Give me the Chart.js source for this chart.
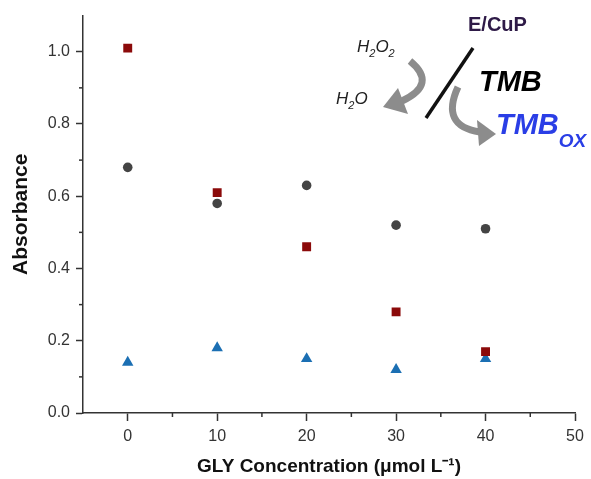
<!DOCTYPE html>
<html>
<head>
<meta charset="utf-8">
<script src="https://cdn.jsdelivr.net/npm/chart.js@4/dist/chart.umd.min.js"></script>
<style>
body { margin: 0; background: #fff; }
#wrap { width: 591px; height: 479px; }
</style>
</head>
<body>
<div id="wrap"><canvas id="chart" width="591" height="479"></canvas></div>
<script>
// data
const concentrations = [0, 10, 20, 30, 40];
const squareValues = [1.01, 0.61, 0.46, 0.28, 0.17];
const circleValues = [0.68, 0.58, 0.63, 0.52, 0.51];
const triangleValues = [0.14, 0.18, 0.15, 0.12, 0.15];

const xTicks = [-5, 0, 5, 10, 15, 20, 25, 30, 35, 40, 45, 50];
const xMajor = [0, 10, 20, 30, 40, 50];
const yTicks = [0, 0.1, 0.2, 0.3, 0.4, 0.5, 0.6, 0.7, 0.8, 0.9, 1.0];
const yMajor = [0, 0.2, 0.4, 0.6, 0.8, 1.0];

const FONT = "'Liberation Sans', Arial, sans-serif";
const AXIS = '#333';

function points(values) {
    return concentrations.map((c, i) => ({ x: c, y: values[i] }));
}

function isMajor(list, v) {
    return list.some(m => Math.abs(m - v) < 1e-6);
}

// text with a lowered small part, e.g. H2O
function subText(ctx, parts, x, y, size) {
    parts.forEach(p => {
        const sub = p.sub;
        ctx.font = ctx.font.replace(/\d+px/, (sub ? Math.round(size * 0.66) : size) + 'px');
        ctx.fillText(p.t, x, sub ? y + size * 0.28 : y);
        x += ctx.measureText(p.t).width;
    });
}

// short minor ticks + scheme in the corner
const decorPlugin = {
    id: 'decor',
    afterDraw(chart) {
        const { ctx, scales } = chart;
        const xs = scales.x, ys = scales.y;
        ctx.save();
        ctx.strokeStyle = AXIS;
        ctx.lineWidth = 1.5;
        xTicks.forEach(v => {
            if (isMajor(xMajor, v) || v === xs.min) return;
            const px = xs.getPixelForValue(v);
            ctx.beginPath();
            ctx.moveTo(px, ys.bottom);
            ctx.lineTo(px, ys.bottom + 4);
            ctx.stroke();
        });
        yTicks.forEach(v => {
            if (isMajor(yMajor, v)) return;
            const py = ys.getPixelForValue(v);
            ctx.beginPath();
            ctx.moveTo(xs.left, py);
            ctx.lineTo(xs.left - 4, py);
            ctx.stroke();
        });

        // slash
        ctx.strokeStyle = '#111';
        ctx.lineWidth = 3.5;
        ctx.beginPath();
        ctx.moveTo(473, 48);
        ctx.lineTo(426, 118);
        ctx.stroke();

        // grey curved arrows
        ctx.strokeStyle = '#8c8c8c';
        ctx.fillStyle = '#8c8c8c';
        ctx.lineWidth = 7;
        ctx.beginPath();
        ctx.moveTo(410, 61);
        ctx.quadraticCurveTo(438, 84, 402, 101);
        ctx.stroke();
        ctx.beginPath();
        ctx.moveTo(398, 88);
        ctx.lineTo(383, 107);
        ctx.lineTo(408, 114);
        ctx.closePath();
        ctx.fill();

        ctx.beginPath();
        ctx.moveTo(458, 87);
        ctx.quadraticCurveTo(440, 126, 480, 132);
        ctx.stroke();
        ctx.beginPath();
        ctx.moveTo(477, 120);
        ctx.lineTo(496, 134);
        ctx.lineTo(479, 146);
        ctx.closePath();
        ctx.fill();

        // labels
        ctx.textBaseline = 'alphabetic';
        ctx.textAlign = 'left';
        ctx.fillStyle = '#2e1a47';
        ctx.font = 'bold 20px ' + FONT;
        ctx.fillText('E/CuP', 468, 31);

        ctx.fillStyle = '#222';
        ctx.font = 'italic 17px ' + FONT;
        subText(ctx, [{ t: 'H' }, { t: '2', sub: true }, { t: 'O' }, { t: '2', sub: true }], 357, 52, 17);
        ctx.font = 'italic 17px ' + FONT;
        subText(ctx, [{ t: 'H' }, { t: '2', sub: true }, { t: 'O' }], 336, 104, 17);

        ctx.fillStyle = '#000';
        ctx.font = 'italic bold 29px ' + FONT;
        ctx.fillText('TMB', 479, 91);

        ctx.fillStyle = '#2a3ee6';
        ctx.font = 'italic bold 29px ' + FONT;
        ctx.fillText('TMB', 496, 134);
        const w = ctx.measureText('TMB').width;
        ctx.font = 'italic bold 19px ' + FONT;
        ctx.fillText('OX', 496 + w, 147);
        ctx.restore();
    }
};

const ctx = document.getElementById('chart').getContext('2d');

new Chart(ctx, {
    type: 'scatter',
    data: {
        datasets: [{
            label: 'square',
            data: points(squareValues),
            pointStyle: 'rect',
            pointRadius: 6.3,
            backgroundColor: '#8b0a0a',
            borderColor: '#8b0a0a',
            borderWidth: 0
        }, {
            label: 'circle',
            data: points(circleValues),
            pointStyle: 'circle',
            pointRadius: 4.8,
            backgroundColor: '#444',
            borderColor: '#444',
            borderWidth: 0
        }, {
            label: 'triangle',
            data: points(triangleValues),
            pointStyle: 'triangle',
            pointRadius: 6.6,
            backgroundColor: '#1b6fb3',
            borderColor: '#1b6fb3',
            borderWidth: 0
        }]
    },
    options: {
        responsive: false,
        animation: false,
        layout: { padding: { top: 15, right: 16, left: 0, bottom: 0 } },
        plugins: {
            legend: { display: false },
            tooltip: { enabled: false }
        },
        scales: {
            x: {
                type: 'linear',
                min: -5,
                max: 50,
                afterBuildTicks: s => { s.ticks = xTicks.map(v => ({ value: v })); },
                afterFit: s => { s.height = 66; },
                ticks: {
                    autoSkip: false,
                    maxRotation: 0,
                    padding: 6,
                    color: AXIS,
                    font: { family: FONT, size: 16 },
                    callback: v => isMajor(xMajor, v) ? String(v) : ''
                },
                grid: {
                    drawOnChartArea: false,
                    drawTicks: true,
                    tickLength: 8,
                    tickWidth: 1.5,
                    tickColor: c => (c.tick && isMajor(xMajor, c.tick.value)) ? AXIS : 'rgba(0,0,0,0)'
                },
                border: { display: true, color: AXIS, width: 1.5 },
                title: {
                    display: true,
                    text: 'GLY Concentration (\u03bcmol L\u207b\u00b9)',
                    color: '#111',
                    font: { family: FONT, size: 19, weight: 'bold' },
                    padding: { top: 0, bottom: 1 }
                }
            },
            y: {
                type: 'linear',
                min: 0,
                max: 1.1,
                afterBuildTicks: s => { s.ticks = yTicks.map(v => ({ value: v })); },
                afterFit: s => { s.width = 83; },
                ticks: {
                    autoSkip: false,
                    padding: 6,
                    color: AXIS,
                    font: { family: FONT, size: 16 },
                    callback: v => isMajor(yMajor, v) ? v.toFixed(1) : ''
                },
                grid: {
                    drawOnChartArea: false,
                    drawTicks: true,
                    tickLength: 7,
                    tickWidth: 1.5,
                    tickColor: c => (c.tick && isMajor(yMajor, c.tick.value)) ? AXIS : 'rgba(0,0,0,0)'
                },
                border: { display: true, color: AXIS, width: 1.5 },
                title: {
                    display: true,
                    text: 'Absorbance',
                    color: '#111',
                    font: { family: FONT, size: 21, weight: 'bold' },
                    padding: { top: 9, bottom: 0 }
                }
            }
        }
    },
    plugins: [decorPlugin]
});
</script>
</body>
</html>
